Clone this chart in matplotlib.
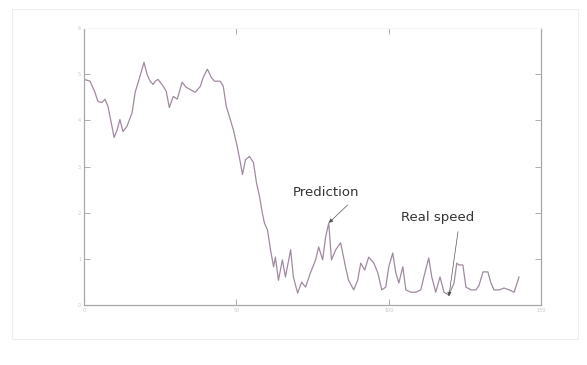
import matplotlib
matplotlib.use('Agg')
import matplotlib.pyplot as plt
from matplotlib.patches import Rectangle

# speed record: time (s) and speed
t = [0, 2.0, 3.6, 4.6, 5.9, 6.9, 7.9, 9.2, 9.9, 10.9, 11.8, 12.8, 14.1, 15.8,
     16.8, 18.4, 19.7, 20.7, 21.7, 22.7, 23.4, 24.3, 26.0, 27.0, 28.0, 29.3,
     30.6, 32.2, 33.5, 34.9, 36.5, 38.2, 39.1, 40.5, 41.8, 42.8, 44.7, 45.7,
     46.7, 47.7, 49.0, 50.3, 51.3, 52.0, 53.0, 54.3, 55.6, 56.6, 57.6, 58.5,
     59.2, 60.2, 61.2, 62.2, 62.8, 63.8, 65.1, 66.1, 67.8, 68.7, 70.1, 71.4,
     72.7, 74.3, 76.0, 77.0, 78.3, 79.3, 80.3, 81.2, 82.6, 84.2, 85.8, 86.8,
     88.5, 89.8, 90.8, 92.1, 93.4, 95.1, 96.4, 97.7, 99.0, 100.0, 101.3, 102.3,
     103.3, 104.6, 105.6, 107.2, 108.9, 110.5, 111.5, 113.1, 114.1, 115.4,
     116.8, 118.1, 119.7, 121.4, 122.3, 123.0, 124.3, 125.3, 127.0, 128.6,
     129.6, 130.9, 132.5, 133.5, 134.5, 136.2, 137.8, 139.5, 141.1, 142.4, 142.7]
speed = [4.89, 4.85, 4.61, 4.41, 4.39, 4.46, 4.30, 3.87, 3.63, 3.80, 4.02, 3.76,
         3.87, 4.17, 4.61, 4.96, 5.26, 5.00, 4.85, 4.78, 4.85, 4.89, 4.74, 4.63,
         4.28, 4.52, 4.46, 4.83, 4.72, 4.67, 4.61, 4.74, 4.93, 5.11, 4.93, 4.85,
         4.85, 4.74, 4.30, 4.09, 3.80, 3.43, 3.09, 2.83, 3.15, 3.22, 3.09, 2.65,
         2.35, 2.00, 1.78, 1.63, 1.20, 0.83, 1.04, 0.54, 0.98, 0.61, 1.20, 0.61,
         0.26, 0.50, 0.39, 0.70, 0.98, 1.26, 0.98, 1.48, 1.78, 0.98, 1.20, 1.35,
         0.83, 0.54, 0.33, 0.54, 0.91, 0.76, 1.04, 0.91, 0.70, 0.33, 0.39, 0.83,
         1.13, 0.70, 0.48, 0.83, 0.33, 0.28, 0.28, 0.33, 0.61, 1.02, 0.61, 0.28,
         0.61, 0.28, 0.22, 0.48, 0.91, 0.87, 0.87, 0.39, 0.33, 0.33, 0.43, 0.72,
         0.72, 0.48, 0.33, 0.33, 0.37, 0.33, 0.28, 0.54, 0.61]

xticks = [0, 50, 100, 150]
yticks = [0, 1, 2, 3, 4, 5, 6]

fig = plt.figure(figsize=(5.87, 3.65), dpi=100)
ax = fig.add_axes([0.143, 0.164, 0.779, 0.759])

# faint outer frame
fig.patches.append(Rectangle((0.02, 0.07), 0.965, 0.905, transform=fig.transFigure,
                             fill=False, edgecolor='#eeeeee', lw=0.8))

ax.plot(t, speed, color='#a08aa0', lw=0.9)

ax.set_xlim(0, 150)
ax.set_ylim(0, 6)
ax.set_xticks(xticks)
ax.set_yticks(yticks)
ax.set_xticklabels([str(v) for v in xticks], fontsize=3.5, color='#c8c8c8')
ax.set_yticklabels([str(v) for v in yticks], fontsize=3.5, color='#c8c8c8')
ax.tick_params(direction='in', length=4, width=0.6, color='#a0a0a0',
               top=True, right=True, pad=2)
for side in ['left', 'bottom', 'right']:
    ax.spines[side].set_color('#a8a8a8')
    ax.spines[side].set_linewidth(0.9)
ax.spines['top'].set_color('#f6f6f6')

arrow = dict(arrowstyle='-|>', color='#555555', lw=0.5, mutation_scale=6,
             shrinkA=0, shrinkB=0)

ax.text(79.4, 2.43, 'Prediction', ha='center', va='center', fontsize=9.5,
        color='#333333', family='DejaVu Sans')
ax.annotate('', xy=(80.3, 1.78), xytext=(86.5, 2.17), arrowprops=arrow)

ax.text(116.0, 1.89, 'Real speed', ha='center', va='center', fontsize=9.5,
        color='#333333', family='DejaVu Sans')
ax.annotate('', xy=(119.7, 0.19), xytext=(122.7, 1.59), arrowprops=arrow)

fig.savefig('out.png', dpi=100)
